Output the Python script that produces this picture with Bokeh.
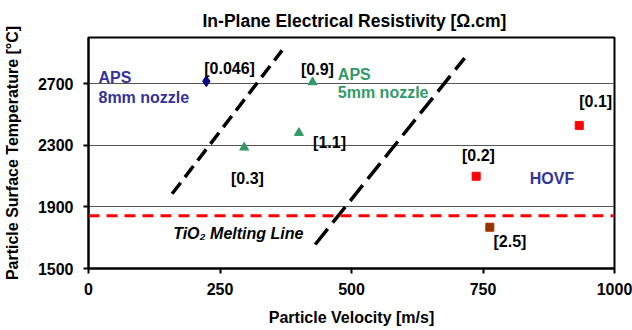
from bokeh.plotting import figure
from bokeh.models import Range1d, FixedTicker, Title, Span
from bokeh.core.properties import value
from bokeh.embed import file_html
from bokeh.resources import INLINE

# ---- data ----
aps8_v = [224]
aps8_T = [2716]
aps5_v = [426, 400, 296]
aps5_T = [2710, 2381, 2286]
hovf_v = [933, 737]
hovf_T = [2429, 2099]
hovf2_v = [763]
hovf2_T = [1768]

line1_v = [159, 368]
line1_T = [1985, 2916]
line2_v = [431, 715]
line2_T = [1656, 2866]
melt_T = 1843

lab_text = ["[0.046]", "[0.9]", "[1.1]", "[0.3]", "[0.1]", "[0.2]", "[2.5]"]
lab_v = [220, 404, 427, 271, 933, 710, 770]
lab_T = [2799, 2792, 2318, 2084, 2584, 2234, 1675]

x_ticks = [0, 250, 500, 750, 1000]
y_ticks = [1500, 1900, 2300, 2700]

FONT = "Liberation Sans"
FS = "16px"

p = figure(width=632, height=330, output_backend="svg", toolbar_location=None,
           x_range=Range1d(0, 1000), y_range=Range1d(1500, 3000),
           min_border_left=87, min_border_right=18, min_border_top=37, min_border_bottom=62)
p.title = Title(text="In-Plane Electrical Resistivity [Ω.cm]", align="left", offset=114,
                text_font=FONT, text_font_size="17.5px", text_font_style="bold",
                text_color="black", standoff=13)
p.background_fill_color = "white"
p.border_fill_color = "white"
p.outline_line_color = "black"
p.outline_line_width = 2

p.xaxis.ticker = FixedTicker(ticks=x_ticks)
p.yaxis.ticker = FixedTicker(ticks=y_ticks)
for ax in (p.xaxis, p.yaxis):
    ax.axis_line_color = "black"
    ax.axis_line_width = 2
    ax.major_tick_line_color = "black"
    ax.major_tick_line_width = 2
    ax.major_tick_out = 5
    ax.major_tick_in = 0
    ax.minor_tick_line_color = None
    ax.major_label_text_font = FONT
    ax.major_label_text_font_size = FS
    ax.major_label_text_font_style = "bold"
    ax.major_label_text_color = "black"
    ax.axis_label_text_font = FONT
    ax.axis_label_text_font_size = FS
    ax.axis_label_text_font_style = "bold"
    ax.axis_label_text_color = "black"
p.xaxis.axis_label = "Particle Velocity [m/s]"
p.yaxis.axis_label = "Particle Surface Temperature [°C]"
p.xaxis.major_label_standoff = 9
p.yaxis.major_label_standoff = 10
p.xaxis.axis_label_standoff = 11
p.yaxis.axis_label_standoff = 14

p.xgrid.grid_line_color = None
p.ygrid.ticker = FixedTicker(ticks=[1900, 2300, 2700])
p.ygrid.grid_line_color = "#555555"
p.ygrid.grid_line_width = 1

p.add_layout(Span(location=melt_T, dimension="width", line_color="#ff0000",
                  line_width=3, line_dash="11 7"))

p.line(line1_v, line1_T, line_color="black", line_width=3.5, line_dash="14 7")
p.line(line2_v, line2_T, line_color="black", line_width=3.5, line_dash="20 8")

p.scatter(aps8_v, aps8_T, marker="diamond", size=11, color="#000080")
p.scatter(aps5_v, aps5_T, marker="triangle", size=9, color="#339966")
p.scatter(hovf_v, hovf_T, marker="square", size=8, color="#ff0000")
p.scatter(hovf2_v, hovf2_T, marker="square", size=8, color="#993300")

p.text(lab_v, lab_T, text=lab_text, text_font=value(FONT), text_font_size=FS,
       text_font_style="bold", text_color="black", text_baseline="middle", text_align="left")

p.text([19, 19], [2740, 2610], text=["APS", "8mm nozzle"], text_font=value(FONT),
       text_font_size="16px", text_font_style="bold", text_color="#333399",
       text_baseline="middle", text_align="left")
p.text([474, 474], [2760, 2643], text=["APS", "5mm nozzle"], text_font=value(FONT),
       text_font_size="16px", text_font_style="bold", text_color="#339966",
       text_baseline="middle", text_align="left")
p.text([839], [2084], text=["HOVF"], text_font=value(FONT),
       text_font_size="16px", text_font_style="bold", text_color="#333399",
       text_baseline="middle", text_align="left")
p.text([161], [1727], text=["TiO₂ Melting Line"], text_font=value(FONT),
       text_font_size="16px", text_font_style="bold italic", text_color="black",
       text_baseline="middle", text_align="left")

open("out.html", "w").write(file_html(p, INLINE))
